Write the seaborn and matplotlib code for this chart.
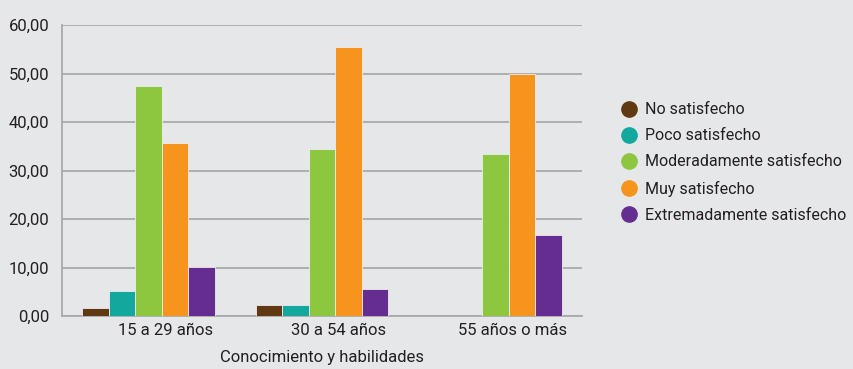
import pandas as pd
import seaborn as sns
import matplotlib.pyplot as plt
import matplotlib.transforms as mtransforms
from matplotlib.lines import Line2D

# --- datos ---
grupos = ['15 a 29 años', '30 a 54 años', '55 años o más']
niveles = ['No satisfecho', 'Poco satisfecho', 'Moderadamente satisfecho',
           'Muy satisfecho', 'Extremadamente satisfecho']
no_satisfecho = [1.7, 2.2, 0.0]
poco_satisfecho = [5.1, 2.2, 0.0]
moderadamente = [47.5, 34.4, 33.3]
muy_satisfecho = [35.6, 55.5, 50.0]
extremadamente = [10.2, 5.5, 16.6]
colores = ['#603913', '#13A89E', '#8DC63F', '#F7941D', '#662D91']

series = [no_satisfecho, poco_satisfecho, moderadamente, muy_satisfecho, extremadamente]
filas = []
for nivel, valores in zip(niveles, series):
    for g, v in zip(grupos, valores):
        filas.append({'Grupo': g, 'Nivel': nivel, 'Valor': v})
df = pd.DataFrame(filas)

bg = '#E6E7E9'
txt = '#231F20'
gris = '#A7A9AC'
fs = 12

sns.set_style('white')
plt.rcParams['font.family'] = ['Roboto', 'DejaVu Sans']

fig, ax = plt.subplots(figsize=(8.54, 3.69), dpi=100)
fig.patch.set_facecolor(bg)
ax.set_facecolor(bg)

sns.barplot(data=df, x='Grupo', y='Valor', hue='Nivel', order=grupos,
            hue_order=niveles, palette=dict(zip(niveles, colores)),
            saturation=1, width=0.766, edgecolor='#EDEDED', linewidth=0.6,
            ax=ax, legend=False, zorder=3)

fig.subplots_adjust(left=62 / 854, right=582 / 854, top=1 - 25 / 369, bottom=1 - 316 / 369)

ax.set_xlim(-0.5, 2.5)
ax.set_ylim(0, 60)
ax.set_yticks(range(0, 61, 10))
ax.set_yticklabels([f'{v},00' for v in range(0, 61, 10)])
ax.yaxis.grid(True, color=gris, linewidth=1.3, zorder=0)
ax.set_axisbelow(True)

for s in ['top', 'right']:
    ax.spines[s].set_visible(False)
for s in ['left', 'bottom']:
    ax.spines[s].set_color(gris)
    ax.spines[s].set_linewidth(1.3)

ax.tick_params(axis='both', length=0, labelsize=fs, labelcolor=txt)
ax.tick_params(axis='y', pad=9)
ax.tick_params(axis='x', pad=5)

# etiquetas de categoría algo desplazadas a la derecha como en el original
desp = mtransforms.ScaledTranslation(17 / 100, 0, fig.dpi_scale_trans)
for lbl in ax.get_xticklabels():
    lbl.set_transform(lbl.get_transform() + desp)

ax.set_ylabel('')
ax.set_xlabel('Conocimiento y habilidades', fontsize=fs, color=txt, labelpad=9)

handles = [Line2D([0], [0], marker='o', linestyle='', markersize=11,
                  markerfacecolor=c, markeredgecolor=c) for c in colores]
fig.legend(handles, niveles, loc='center left', bbox_to_anchor=(607 / 854, 1 - 162.5 / 369),
           frameon=False, fontsize=11.5, labelcolor=txt, handletextpad=0.45,
           labelspacing=0.7, handlelength=1.0)

plt.savefig('out.png', dpi=100, facecolor=bg)
